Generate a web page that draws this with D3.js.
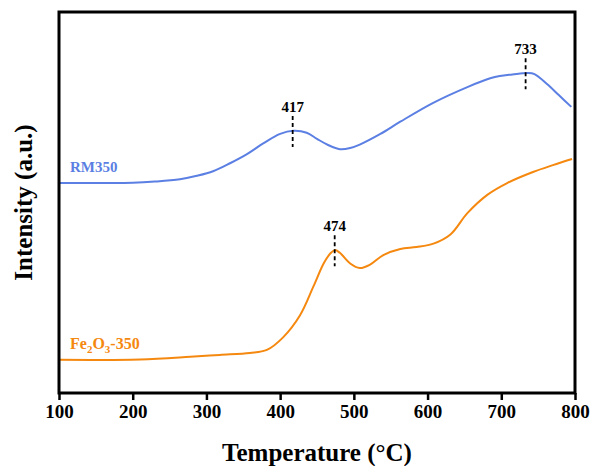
<!DOCTYPE html>
<meta charset="utf-8">
<script src="https://cdn.jsdelivr.net/npm/d3@7"></script>
<style>
  body { margin: 0; background: #fff; }
  text { font-family: "Liberation Serif", "Times New Roman", serif; font-weight: bold; }
  path.curve { fill: none; stroke-width: 2px; }
</style>
<body>
<script>
  // H2-TPR style curves, intensity in arbitrary units
  var rmTemp = [100, 200, 230, 264, 287, 309, 332, 355, 377, 400, 418, 436, 450, 465, 481, 495, 508, 536, 563, 607, 654, 685, 698, 715, 736, 745, 762, 778, 795];
  var rmVal  = [55.1, 55.2, 55.5, 56.1, 57.0, 58.2, 60.3, 62.7, 65.5, 68.0, 68.8, 68.3, 66.7, 65.1, 64.0, 64.3, 65.2, 68.0, 71.2, 76.1, 80.3, 82.6, 83.2, 83.6, 84.0, 83.7, 81.1, 78.2, 75.1];

  var feTemp = [100, 210, 278, 318, 359, 382, 404, 427, 445, 459, 468, 474, 481, 495, 508, 522, 540, 563, 585, 608, 631, 654, 681, 708, 743, 770, 796];
  var feVal  = [8.7, 8.8, 9.5, 10.0, 10.5, 11.3, 14.6, 20.4, 27.9, 34.0, 36.6, 37.5, 36.8, 34.0, 32.8, 33.7, 36.2, 37.8, 38.3, 39.2, 41.6, 47.2, 52.0, 55.1, 58.0, 59.8, 61.4];

  var peakTemps = [417, 474, 733];
  var peakSeries = ["rm", "fe", "rm"];
  var xTicks = [100, 200, 300, 400, 500, 600, 700, 800];

  var width = 591, height = 466;
  var margin = {left: 59, right: 16, top: 12, bottom: 73};
  var blue = "#5b7fe3", orange = "#f5880f";

  var svg = d3.select("body").append("svg")
    .attr("width", width)
    .attr("height", height);

  var x = d3.scaleLinear().domain([100, 800]).range([margin.left, width - margin.right]);
  var y = d3.scaleLinear().domain([0, 100]).range([height - margin.bottom, margin.top]);

  var rm = rmTemp.map(function (t, i) { return {t: t, v: rmVal[i]}; });
  var fe = feTemp.map(function (t, i) { return {t: t, v: feVal[i]}; });

  var line = d3.line()
    .x(function (d) { return x(d.t); })
    .y(function (d) { return y(d.v); })
    .curve(d3.curveCatmullRom.alpha(0.5));

  svg.append("path").attr("class", "curve").attr("d", line(rm)).style("stroke", blue);
  svg.append("path").attr("class", "curve").attr("d", line(fe)).style("stroke", orange);

  // peak markers
  function valueAt(data, t) {
    var interp = d3.scaleLinear().domain(data.map(function (d) { return d.t; })).range(data.map(function (d) { return d.v; }));
    return interp(t);
  }
  peakTemps.forEach(function (t, i) {
    var data = peakSeries[i] == "rm" ? rm : fe;
    var py = y(valueAt(data, t));
    svg.append("line")
      .attr("x1", x(t)).attr("x2", x(t))
      .attr("y1", py - 15).attr("y2", py + 16)
      .style("stroke", "#000")
      .style("stroke-width", 1.8)
      .style("stroke-dasharray", "4,3");
    svg.append("text")
      .attr("x", x(t))
      .attr("y", py - 19)
      .attr("text-anchor", "middle")
      .style("font-size", "15px")
      .text(t);
  });

  // series labels
  svg.append("text")
    .attr("x", 70).attr("y", 172)
    .style("font-size", "15px")
    .style("fill", blue)
    .text("RM350");

  var feLabel = svg.append("text")
    .attr("x", 70).attr("y", 349)
    .style("font-size", "16px")
    .style("fill", orange);
  feLabel.append("tspan").text("Fe");
  feLabel.append("tspan").attr("dy", 4).style("font-size", "11px").text("2");
  feLabel.append("tspan").attr("dy", -4).text("O");
  feLabel.append("tspan").attr("dy", 4).style("font-size", "11px").text("3");
  feLabel.append("tspan").attr("dy", -4).text("-350");

  // x axis
  var xAxis = svg.append("g")
    .attr("transform", "translate(0," + (height - margin.bottom) + ")")
    .call(d3.axisBottom(x).tickValues(xTicks).tickSize(7).tickPadding(5).tickFormat(d3.format("d")));
  xAxis.select(".domain").remove();
  xAxis.selectAll(".tick line").style("stroke", "#000").style("stroke-width", 2.5);
  xAxis.selectAll(".tick text")
    .style("font-size", "19px")
    .style("fill", "#000")
    .style("font-family", "'Liberation Serif', 'Times New Roman', serif")
    .style("font-weight", "bold");

  // frame
  svg.append("rect")
    .attr("x", margin.left).attr("y", margin.top)
    .attr("width", width - margin.left - margin.right)
    .attr("height", height - margin.top - margin.bottom)
    .style("fill", "none")
    .style("stroke", "#000")
    .style("stroke-width", 3);

  // axis titles
  svg.append("text")
    .attr("x", (margin.left + width - margin.right) / 2)
    .attr("y", 461)
    .attr("text-anchor", "middle")
    .style("font-size", "25px")
    .text("Temperature (°C)");

  svg.append("text")
    .attr("transform", "translate(32," + ((margin.top + height - margin.bottom) / 2) + ") rotate(-90)")
    .attr("text-anchor", "middle")
    .style("font-size", "25px")
    .text("Intensity (a.u.)");
</script>
</body>
